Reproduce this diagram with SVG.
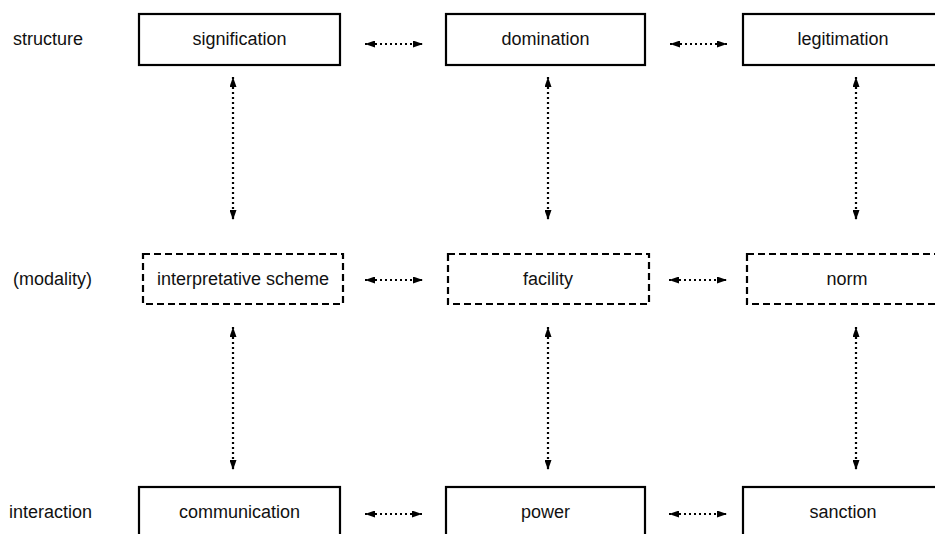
<svg xmlns="http://www.w3.org/2000/svg" width="935" height="534" viewBox="0 0 935 534">
<defs>
<marker id="ah" viewBox="0 0 10 7" refX="10" refY="3.5" markerWidth="10" markerHeight="7" markerUnits="userSpaceOnUse" orient="auto-start-reverse">
<path d="M0,0 L10,3.5 L0,7 z" fill="#000"/>
</marker>
<style>
text{font-family:"Liberation Sans",Arial,sans-serif;font-size:18px;fill:#111}
.c{text-anchor:middle}
.solid{fill:#fff;stroke:#000;stroke-width:2.2}
.dash{fill:#fff;stroke:#000;stroke-width:2.2;stroke-dasharray:7 4}
.con{stroke:#000;stroke-width:2.2;stroke-dasharray:2 3;fill:none;marker-start:url(#ah);marker-end:url(#ah)}
</style>
</defs>
<rect width="935" height="534" fill="#fff"/>
<g id="row-labels">
<text x="13" y="45">structure</text>
<text x="13" y="285">(modality)</text>
<text x="9" y="518">interaction</text>
</g>
<g id="connectors">
<line class="con" x1="365" y1="44" x2="423" y2="44"/>
<line class="con" x1="670" y1="44" x2="727" y2="44"/>
<line class="con" x1="365" y1="280" x2="423" y2="280"/>
<line class="con" x1="669" y1="280" x2="727" y2="280"/>
<line class="con" x1="365" y1="514" x2="422" y2="514"/>
<line class="con" x1="669" y1="514" x2="727" y2="514"/>
<line class="con" x1="233" y1="77" x2="233" y2="220"/>
<line class="con" x1="548" y1="77" x2="548" y2="220"/>
<line class="con" x1="856" y1="77" x2="856" y2="220"/>
<line class="con" x1="233" y1="327" x2="233" y2="470"/>
<line class="con" x1="548" y1="327" x2="548" y2="470"/>
<line class="con" x1="856" y1="327" x2="856" y2="470"/>
</g>
<g id="signification"><rect class="solid" x="139" y="14" width="201" height="51"/><text class="c" x="239.5" y="45">signification</text></g>
<g id="domination"><rect class="solid" x="446" y="14" width="199" height="51"/><text class="c" x="545.5" y="45">domination</text></g>
<g id="legitimation"><rect class="solid" x="743" y="14" width="202" height="51"/><text class="c" x="843" y="45">legitimation</text></g>
<g id="interpretative-scheme"><rect class="dash" x="143" y="254" width="200" height="50"/><text class="c" x="243" y="285">interpretative scheme</text></g>
<g id="facility"><rect class="dash" x="448" y="254" width="201" height="50"/><text class="c" x="548" y="285">facility</text></g>
<g id="norm"><rect class="dash" x="747" y="254" width="201" height="50"/><text class="c" x="847" y="285">norm</text></g>
<g id="communication"><rect class="solid" x="139" y="487" width="201" height="52"/><text class="c" x="239.5" y="518">communication</text></g>
<g id="power"><rect class="solid" x="446" y="487" width="199" height="52"/><text class="c" x="545.5" y="518">power</text></g>
<g id="sanction"><rect class="solid" x="743" y="487" width="202" height="52"/><text class="c" x="843" y="518">sanction</text></g>
</svg>
